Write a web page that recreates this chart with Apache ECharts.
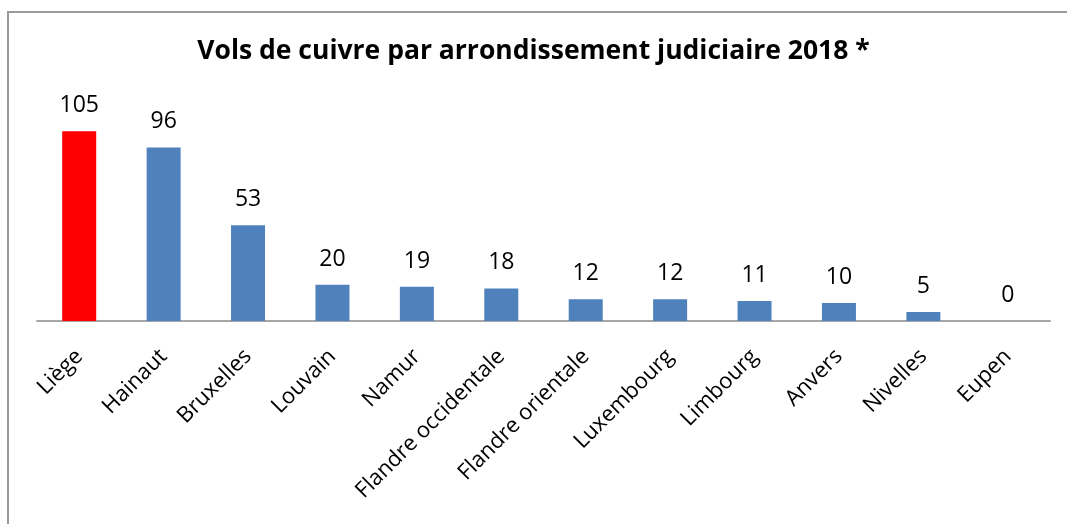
<!DOCTYPE html>
<html>
<head>
<meta charset="utf-8">
<script src="https://cdn.jsdelivr.net/npm/echarts@6/dist/echarts.min.js"></script>
<style>html,body{margin:0;padding:0;background:#fff;}#c{width:1067px;height:524px;}</style>
</head>
<body>
<div id="c"></div>
<script>
const titleText = 'Vols de cuivre par arrondissement judiciaire 2018 *';
const categories = ['Liège','Hainaut','Bruxelles','Louvain','Namur','Flandre occidentale','Flandre orientale','Luxembourg','Limbourg','Anvers','Nivelles','Eupen'];
const values = [105, 96, 53, 20, 19, 18, 12, 12, 11, 10, 5, 0];
const highlightIndex = 0;
const FONT = '"Open Sans", "Noto Sans", sans-serif';

const chart = echarts.init(document.getElementById('c'), null, {renderer: 'canvas'});
chart.setOption({
  backgroundColor: '#ffffff',
  animation: false,
  title: {
    text: titleText,
    left: 'center',
    top: 33,
    textStyle: {fontFamily: FONT, fontWeight: 'bold', fontSize: 26.5, color: '#000'}
  },
  graphic: [{
    type: 'rect',
    shape: {x: 8, y: 12, width: 1200, height: 700},
    style: {fill: 'none', stroke: '#9a9a9a', lineWidth: 2},
    silent: true, z: -1
  }],
  grid: {left: 37, right: 17, top: 104, bottom: 203, containLabel: false},
  xAxis: {
    type: 'category',
    data: categories,
    axisLine: {show: true, lineStyle: {color: '#a6a6a6', width: 2}},
    axisTick: {show: false},
    axisLabel: {
      interval: 0, rotate: 45, margin: 32,
      fontFamily: FONT, fontSize: 22, color: '#000'
    }
  },
  yAxis: {
    type: 'value', min: 0, max: 120, interval: 20,
    show: false, splitLine: {show: false}
  },
  series: [{
    type: 'bar',
    data: values.map((v, i) => ({value: v, itemStyle: {color: i === highlightIndex ? '#ff0000' : '#4f81bd'}})),
    barWidth: 34,
    label: {show: true, position: 'top', distance: 14, fontFamily: FONT, fontSize: 23, color: '#000'}
  }]
});
</script>
</body>
</html>
